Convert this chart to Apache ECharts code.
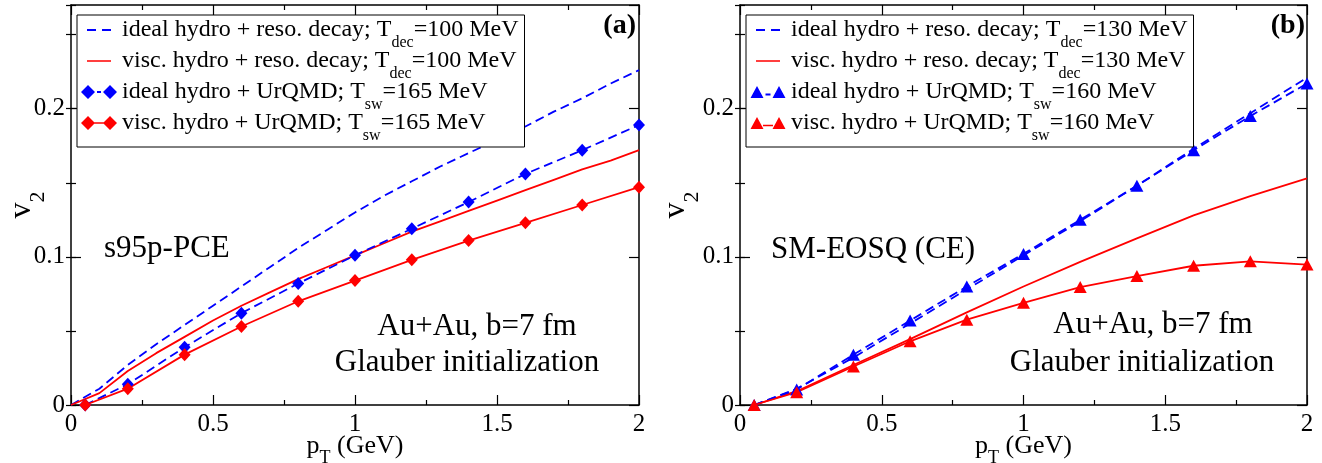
<!DOCTYPE html>
<html><head><meta charset="utf-8">
<script src="https://cdn.jsdelivr.net/npm/echarts@6/dist/echarts.min.js"></script>
<style>html,body{margin:0;padding:0;background:#fff}#c{width:1322px;height:463px}</style>
</head><body><div id="c"></div>
<script>
// ---------- data ----------
const xTicks = [0, 0.5, 1, 1.5, 2];
const yTicks = [0, 0.1, 0.2];
const yMax = 0.27;
const yMinorStep = 0.05;

const ptUrqmd = [0.05, 0.2, 0.4, 0.6, 0.8, 1.0, 1.2, 1.4, 1.6, 1.8, 2.0];

// panel (a): s95p-PCE
const ptResoA = [0, 0.1, 0.2, 0.3, 0.4, 0.5, 0.6, 0.7, 0.8, 0.9, 1.0, 1.1, 1.2, 1.3, 1.4, 1.5, 1.6, 1.7, 1.8, 1.9, 2.0];
const aIdealReso = [0, 0.011, 0.027, 0.041, 0.054, 0.067, 0.080, 0.093, 0.106, 0.118, 0.130, 0.141, 0.151, 0.161, 0.170, 0.179, 0.188, 0.198, 0.207, 0.217, 0.226];
const aViscReso  = [0, 0.008, 0.023, 0.035, 0.046, 0.057, 0.067, 0.076, 0.085, 0.093, 0.101, 0.109, 0.117, 0.124, 0.131, 0.138, 0.145, 0.152, 0.159, 0.165, 0.172];
const aIdealUrqmd = [0.000, 0.014, 0.039, 0.062, 0.082, 0.101, 0.119, 0.137, 0.156, 0.172, 0.189];
const aViscUrqmd  = [0.000, 0.011, 0.034, 0.053, 0.070, 0.084, 0.098, 0.111, 0.123, 0.135, 0.147];

// panel (b): SM-EOSQ (CE)
const ptResoB = [0.05, 0.2, 0.4, 0.6, 0.8, 1.0, 1.2, 1.4, 1.6, 1.8, 2.0];
const bIdealReso = [0.000, 0.011, 0.032, 0.055, 0.078, 0.101, 0.124, 0.148, 0.173, 0.197, 0.221];
const bViscReso  = [0.000, 0.0093, 0.027, 0.0445, 0.0625, 0.080, 0.0966, 0.1125, 0.128, 0.141, 0.153];
const bIdealUrqmd = [0.000, 0.0104, 0.034, 0.057, 0.080, 0.102, 0.125, 0.148, 0.172, 0.195, 0.217];
const bViscUrqmd  = [0.000, 0.0086, 0.026, 0.043, 0.0576, 0.069, 0.0796, 0.087, 0.094, 0.097, 0.0948];

const namesA = [
  'ideal hydro + reso. decay; T_dec=100 MeV',
  'visc. hydro + reso. decay; T_dec=100 MeV',
  'ideal hydro + UrQMD; T_sw=165 MeV',
  'visc. hydro + UrQMD; T_sw=165 MeV'
];
const namesB = [
  'ideal hydro + reso. decay; T_dec=130 MeV',
  'visc. hydro + reso. decay; T_dec=130 MeV',
  'ideal hydro + UrQMD; T_sw=160 MeV',
  'visc. hydro + UrQMD; T_sw=160 MeV'
];

// ---------- styling ----------
const F = '"Liberation Serif", "Times New Roman", serif';
const BLUE = '#0000ff', RED = '#ff0000';
const zip = (xs, ys) => xs.map((x, i) => [x, ys[i]]);

function mkLine(name, xs, ys, color, dashed, symbol, gi) {
  return {
    type: 'line', name, xAxisIndex: gi * 2, yAxisIndex: gi * 4,
    data: zip(xs, ys),
    symbol: symbol || 'none',
    symbolSize: symbol === 'diamond' ? [12, 13] : [13, 12],
    showSymbol: !!symbol, showAllSymbol: true,
    lineStyle: { color, width: 1.8, type: dashed ? [9, 5] : 'solid' },
    itemStyle: { color },
    emphasis: { disabled: true },
    z: 3, animation: false
  };
}

function xAxes(gi) {
  const common = {
    type: 'value', gridIndex: gi,
    min: xTicks[0], max: xTicks[xTicks.length - 1], interval: xTicks[1] - xTicks[0],
    axisLine: { show: true, onZero: false, lineStyle: { color: '#000', width: 1.5 } },
    axisTick: { show: true, inside: true, length: 10, lineStyle: { color: '#000', width: 1.2 } },
    minorTick: { show: true, splitNumber: 2, length: 5, lineStyle: { color: '#000', width: 1.2 } },
    splitLine: { show: false }, minorSplitLine: { show: false }
  };
  return [
    Object.assign({}, common, {
      position: 'bottom',
      axisLabel: { show: true, margin: 7, fontFamily: F, fontSize: 25, color: '#000',
        formatter: v => String(+(+v).toFixed(2)) },
      name: '{a|p}{s|T}{a| (GeV)}', nameLocation: 'middle', nameGap: 28, nameMoveOverlap: false,
      nameTextStyle: { rich: {
        a: { fontFamily: F, fontSize: 26, lineHeight: 26, color: '#000' },
        s: { fontFamily: F, fontSize: 18, lineHeight: 18, padding: [24, 0, 0, 0], color: '#000' }
      } }
    }),
    Object.assign({}, common, { position: 'top', axisLabel: { show: false } })
  ];
}

function yAxes(gi, nameGap) {
  const base = { type: 'value', gridIndex: gi, min: 0, max: yMax, splitLine: { show: false } };
  const line = { show: true, onZero: false, lineStyle: { color: '#000', width: 1.5 } };
  const major = { show: true, inside: true, length: 10, lineStyle: { color: '#000', width: 1.2 } };
  const minor = { show: true, inside: true, length: 5, lineStyle: { color: '#000', width: 1.2 } };
  return [
    Object.assign({}, base, {
      position: 'left', interval: yTicks[1] - yTicks[0], axisLine: line, axisTick: major,
      axisLabel: { show: true, margin: 6, showMaxLabel: false, fontFamily: F, fontSize: 25, color: '#000',
        formatter: v => { const r = +(+v).toFixed(3); return yTicks.indexOf(r) >= 0 ? String(r) : ''; } },
      name: '{v|v}{s|2}', nameLocation: 'middle', nameRotate: 90, nameGap: nameGap, nameMoveOverlap: false,
      nameTextStyle: { rich: {
        v: { fontFamily: F, fontSize: 32, lineHeight: 32, color: '#000' },
        s: { fontFamily: F, fontSize: 22, lineHeight: 22, padding: [32, 0, 0, 0], color: '#000' }
      } }
    }),
    Object.assign({}, base, { position: 'left', interval: yMinorStep, axisLine: { show: false }, axisTick: minor, axisLabel: { show: false } }),
    Object.assign({}, base, { position: 'right', interval: yTicks[1] - yTicks[0], axisLine: line, axisTick: major, axisLabel: { show: false } }),
    Object.assign({}, base, { position: 'right', interval: yMinorStep, axisLine: { show: false }, axisTick: minor, axisLabel: { show: false } })
  ];
}

// legend icons (36 x 14 box; tiny corner marks fix the bounding box)
const CORNERS = 'M0 0L0.01 0L0 0.01Z M36 14L35.99 14L36 13.99Z ';
const ICON_DASH = 'path://' + CORNERS + 'M6 6H15V8H6Z M21 6H30V8H21Z';
const ICON_SOLID = 'path://' + CORNERS + 'M6 6.2H30V7.8H6Z';
const ICON_DIA_DASH = 'path://' + CORNERS + 'M0 7L7 0L14 7L7 14Z M22 7L29 0L36 7L29 14Z M16 6H20V8H16Z';
const ICON_DIA_SOLID = 'path://' + CORNERS + 'M0 7L7 0L14 7L7 14Z M22 7L29 0L36 7L29 14Z M13 6.2H23V7.8H13Z';
const ICON_TRI_DASH = 'path://' + CORNERS + 'M0.5 13L7 1L13.5 13Z M22.5 13L29 1L35.5 13Z M15.5 8.5H20.5V10.5H15.5Z';
const ICON_TRI_SOLID = 'path://' + CORNERS + 'M0.5 13L7 1L13.5 13Z M22.5 13L29 1L35.5 13Z M13 8.7H23V10.3H13Z';

function fmt(name) {
  const m = name.match(/^(.*T)_(\w+)(=.*)$/);
  if (!m) return '{a|' + name + '}';
  return '{a|' + m[1] + '}{s|' + m[2] + '}{a|' + m[3] + '}';
}

function mkLegend(left, names, icons) {
  return {
    orient: 'vertical', left: left, top: 15,
    padding: [-6, 6, 3, 4], itemGap: -11, itemWidth: 36, itemHeight: 14,
    backgroundColor: '#fff', borderColor: '#000', borderWidth: 1, borderRadius: 0,
    selectedMode: false, itemStyle: { borderWidth: 0 }, symbolKeepAspect: true,
    formatter: fmt,
    textStyle: { fontFamily: F, fontSize: 24, color: '#000', rich: {
      a: { fontFamily: F, fontSize: 24, lineHeight: 24, color: '#000' },
      s: { fontFamily: F, fontSize: 16, lineHeight: 16, padding: [26, 0, 0, 0], color: '#000' }
    } },
    data: names.map((n, i) => ({ name: n, icon: icons[i] })),
    z: 10
  };
}

function txt(x, y, text, size, align, bold) {
  return { type: 'text', x: x, y: y, z: 20, silent: true,
    style: { text: text, font: (bold ? 'bold ' : '') + size + 'px ' + F, fill: '#000',
      align: align, textAlign: align, verticalAlign: 'middle', textVerticalAlign: 'middle' } };
}

const option = {
  animation: false,
  backgroundColor: '#fff',
  grid: [
    { left: 71, width: 568, top: 5, height: 400, containLabel: false, outerBoundsMode: 'none' },
    { left: 740, width: 567, top: 5, height: 400, containLabel: false, outerBoundsMode: 'none' }
  ],
  xAxis: xAxes(0).concat(xAxes(1)),
  yAxis: yAxes(0, 33).concat(yAxes(1, 48)),
  legend: [
    mkLegend(77, namesA, [ICON_DASH, ICON_SOLID, ICON_DIA_DASH, ICON_DIA_SOLID]),
    mkLegend(746, namesB, [ICON_DASH, ICON_SOLID, ICON_TRI_DASH, ICON_TRI_SOLID])
  ],
  series: [
    mkLine(namesA[0], ptResoA, aIdealReso, BLUE, true, null, 0),
    mkLine(namesA[1], ptResoA, aViscReso, RED, false, null, 0),
    mkLine(namesA[2], ptUrqmd, aIdealUrqmd, BLUE, true, 'diamond', 0),
    mkLine(namesA[3], ptUrqmd, aViscUrqmd, RED, false, 'diamond', 0),
    mkLine(namesB[0], ptResoB, bIdealReso, BLUE, true, null, 1),
    mkLine(namesB[1], ptResoB, bViscReso, RED, false, null, 1),
    mkLine(namesB[2], ptUrqmd, bIdealUrqmd, BLUE, true, 'triangle', 1),
    mkLine(namesB[3], ptUrqmd, bViscUrqmd, RED, false, 'triangle', 1)
  ],
  graphic: [
    txt(104, 249, 's95p-PCE', 31, 'left'),
    txt(477, 327, 'Au+Au, b=7 fm', 31, 'center'),
    txt(467, 363, 'Glauber initialization', 31, 'center'),
    txt(636, 26, '(a)', 28, 'right', true),
    txt(771, 250, 'SM-EOSQ (CE)', 31, 'left'),
    txt(1153, 325, 'Au+Au, b=7 fm', 31, 'center'),
    txt(1142, 363, 'Glauber initialization', 31, 'center'),
    txt(1305, 26, '(b)', 28, 'right', true)
  ]
};

const chart = echarts.init(document.getElementById('c'), null, { renderer: 'canvas' });
chart.setOption(option);
</script>
</body></html>
